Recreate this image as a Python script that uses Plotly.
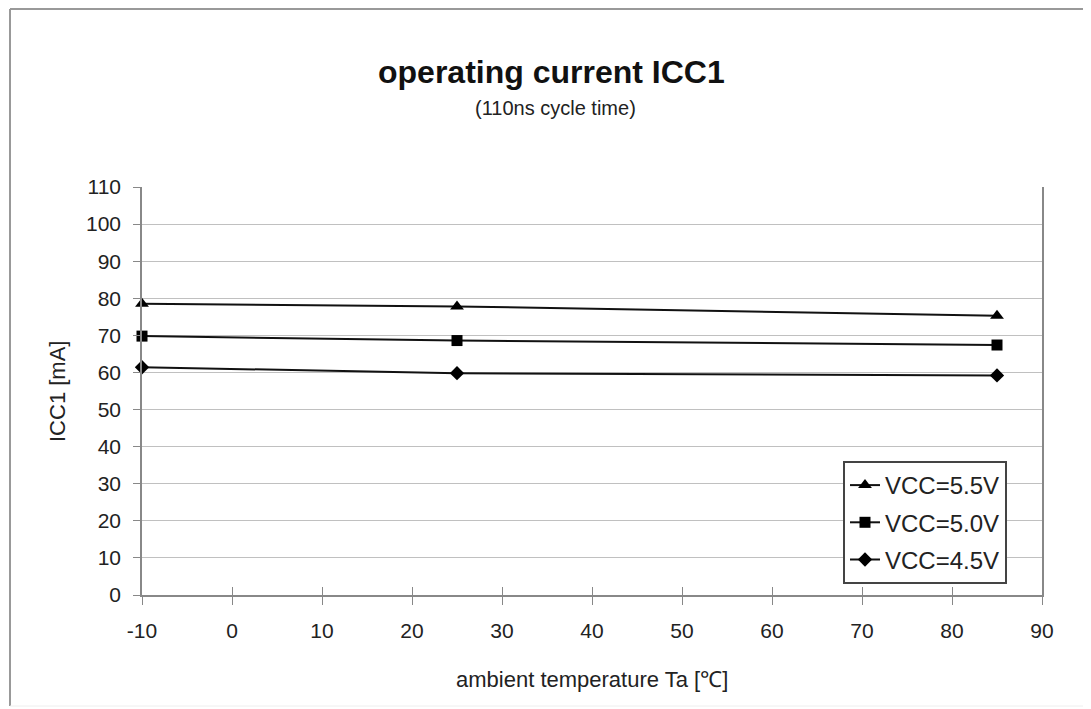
import plotly.graph_objects as go

temps = [-10, 25, 85]
vcc55 = [78.5, 77.8, 75.3]
vcc50 = [69.8, 68.6, 67.4]
vcc45 = [61.4, 59.8, 59.2]
series_names = ["VCC=5.5V", "VCC=5.0V", "VCC=4.5V"]
x_ticks = [-10, 0, 10, 20, 30, 40, 50, 60, 70, 80, 90]
x_tick_labels = ["-10", "0", "10", "20", "30", "40", "50", "60", "70", "80", "90"]
y_ticks = [0, 10, 20, 30, 40, 50, 60, 70, 80, 90, 100, 110]

FONT = "Liberation Sans, Arial, sans-serif"
TXT = "#222222"

# page body has an 8px margin; figure coordinates are compensated
W, H = 1083, 701
L, T = 134, 179
PW, PH = 900, 408


def fx(px):
    return (px - 142) / PW


def fy(py):
    return (595 - py) / PH


fig = go.Figure()
for name, vals, sym, sz in [
    (series_names[0], vcc55, "triangle-up", 12),
    (series_names[1], vcc50, "square", 11),
    (series_names[2], vcc45, "diamond", 11),
]:
    fig.add_trace(go.Scatter(
        x=temps, y=vals, name=name, mode="lines+markers",
        line=dict(color="#111111", width=2),
        marker=dict(symbol=sym, size=sz, color="#000000"),
        legendgroup=name, cliponaxis=False,
    ))

# helper trace for inside half of the crossing x ticks
fig.add_trace(go.Scatter(x=[-10], y=[0], xaxis="x2", yaxis="y", showlegend=False,
                         mode="markers", marker=dict(opacity=0), hoverinfo="skip"))

fig.update_layout(
    width=W, height=H,
    paper_bgcolor="white", plot_bgcolor="white",
    margin=dict(l=L, r=W - L - PW, t=T, b=H - T - PH),
    font=dict(family=FONT, size=21, color=TXT),
    xaxis=dict(
        range=[-10, 90], tickvals=x_ticks, ticktext=x_tick_labels,
        showgrid=False, zeroline=False,
        showline=True, linecolor="#888888", linewidth=1.5,
        ticks="outside", ticklen=8, tickcolor="#888888",
        tickfont=dict(size=21, color=TXT), ticklabelstandoff=8,
    ),
    xaxis2=dict(
        range=[-10, 90], tickvals=x_ticks, overlaying="x", showgrid=False, zeroline=False,
        showticklabels=False, ticks="inside", ticklen=8, tickcolor="#888888", side="bottom",
    ),
    yaxis=dict(
        range=[0, 110], tickvals=y_ticks, showgrid=True, gridcolor="#c0c0c0", gridwidth=1,
        zeroline=False, showline=True, linecolor="#888888", linewidth=1.5, mirror=True,
        ticks="outside", ticklen=7, tickcolor="#888888",
        tickfont=dict(size=21, color=TXT), ticklabelstandoff=8,
    ),
    legend=dict(
        x=fx(843), y=fy(461), xanchor="left", yanchor="top",
        bordercolor="#444444", borderwidth=2, bgcolor="white",
        font=dict(size=24, color=TXT),
        tracegroupgap=3, traceorder="grouped",
    ),
    showlegend=True,
    annotations=[
        dict(text="<b>operating current ICC1</b>", xref="paper", yref="paper",
             x=fx(551), y=fy(72), xanchor="center", yanchor="middle", showarrow=False,
             font=dict(family=FONT, size=32, color="#111111")),
        dict(text="(110ns cycle time)", xref="paper", yref="paper",
             x=fx(555), y=fy(108), xanchor="center", yanchor="middle", showarrow=False,
             font=dict(family=FONT, size=20, color=TXT)),
        dict(text="ambient temperature Ta [℃]", xref="paper", yref="paper",
             x=fx(592), y=fy(679), xanchor="center", yanchor="middle", showarrow=False,
             font=dict(family=FONT, size=22, color=TXT)),
        dict(text="ICC1 [mA]", xref="paper", yref="paper", textangle=-90,
             x=fx(57), y=fy(392), xanchor="center", yanchor="middle", showarrow=False,
             font=dict(family=FONT, size=22, color=TXT)),
    ],
)

# outer chart frame (left, top, faint bottom)
fig.add_shape(type="line", xref="paper", yref="paper",
              x0=fx(10), x1=fx(10), y0=fy(706), y1=fy(9),
              line=dict(color="#999999", width=2))
fig.add_shape(type="line", xref="paper", yref="paper",
              x0=fx(10), x1=fx(1100), y0=fy(9), y1=fy(9),
              line=dict(color="#999999", width=2))
fig.add_shape(type="line", xref="paper", yref="paper",
              x0=fx(10), x1=fx(1100), y0=fy(706), y1=fy(706),
              line=dict(color="#eeeeee", width=1))

fig.write_html("out.html")
